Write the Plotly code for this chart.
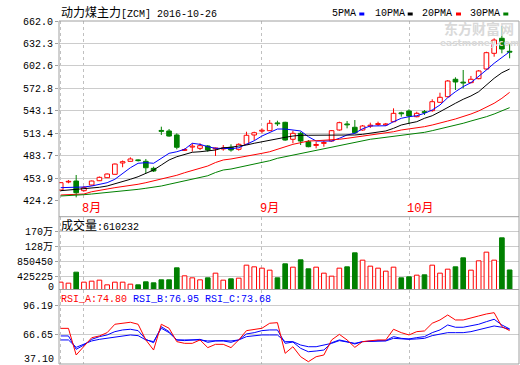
import plotly.graph_objects as go

# ---------------- data ----------------
idx = list(range(59))

opens = [438.1, 448.7, 450.0, 437.2, 444.7, 450.4, 454.4, 458.9, 473.9, 476.1,
         478.0, 476.1, 466.8, 517.0, 516.3, 511.0, 490.6, 495.0, 493.3, 496.4,
         492.6, 492.5, 494.7, 492.0, 498.6, 511.0, 516.1, 516.7, 527.0, 527.8,
         505.3, 513.2, 502.1, 497.2, 499.9, 503.0, 517.6, 525.6, 521.2, 517.6,
         522.8, 524.9, 524.4, 528.6, 540.3, 542.8, 535.2, 541.9, 543.2, 554.3,
         561.7, 584.8, 581.0, 580.3, 585.6, 598.4, 619.2, 639.1, 621.9]
highs = [448.7, 451.4, 458.0, 443.4, 450.7, 456.0, 460.0, 473.2, 477.2, 481.4,
         478.8, 479.2, 469.0, 522.0, 518.9, 513.2, 493.1, 500.0, 500.0, 497.7,
         494.4, 497.7, 498.6, 500.0, 515.3, 515.3, 519.8, 530.8, 529.9, 528.5,
         516.7, 515.3, 504.3, 502.1, 503.4, 517.6, 528.6, 529.5, 530.8, 524.2,
         527.3, 528.6, 526.9, 546.3, 541.8, 545.0, 541.8, 544.1, 558.3, 567.0,
         583.8, 587.4, 597.1, 589.2, 597.1, 621.3, 639.1, 655.4, 631.5]
lows = [437.4, 447.0, 428.4, 436.1, 444.0, 450.0, 454.0, 458.6, 468.2, 475.9,
        475.9, 460.2, 462.0, 511.0, 508.7, 492.0, 489.8, 488.9, 491.1, 488.9,
        483.2, 490.2, 488.9, 490.2, 498.4, 504.3, 513.2, 516.7, 522.9, 503.4,
        500.0, 497.7, 494.7, 493.3, 495.5, 502.1, 516.7, 519.8, 512.3, 516.7,
        520.3, 522.9, 522.9, 528.0, 535.2, 525.5, 534.4, 537.5, 541.8, 553.8,
        560.9, 570.6, 572.8, 579.5, 584.8, 597.1, 614.7, 619.2, 612.6]
closes = [447.8, 449.6, 434.5, 441.2, 450.0, 454.9, 459.3, 472.5, 475.6, 479.2,
          477.0, 467.6, 463.3, 515.8, 509.6, 494.7, 491.8, 496.2, 496.8, 491.1,
          493.8, 493.7, 491.1, 498.6, 510.6, 514.0, 517.3, 526.5, 525.8, 504.3,
          513.2, 503.0, 495.5, 498.4, 501.1, 516.7, 527.3, 524.4, 514.0, 522.9,
          524.0, 526.1, 525.6, 539.7, 539.1, 536.1, 539.7, 540.7, 555.1, 560.9,
          582.5, 581.2, 579.8, 584.8, 595.8, 620.0, 636.8, 624.9, 620.7]

ma5 = [441.2, 441.2, 441.7, 442.1, 443.4, 445.7, 447.8, 452.3, 460.2, 467.6,
       473.5, 474.3, 473.5, 480.1, 486.7, 488.8, 492.0, 500.0, 498.6, 495.5,
       493.3, 493.3, 492.8, 494.1, 498.6, 503.4, 509.6, 514.5, 518.9, 518.9,
       517.6, 516.3, 508.7, 503.0, 503.0, 503.0, 506.6, 511.0, 513.2, 519.3,
       522.9, 522.9, 523.2, 528.6, 533.1, 535.2, 536.5, 539.7, 544.1, 550.7,
       560.4, 568.3, 575.0, 580.3, 588.2, 597.1, 606.0, 613.9, 621.3]
ma10 = [437.2, 438.1, 439.0, 439.0, 440.4, 441.7, 443.4, 446.1, 449.1, 452.3,
        455.7, 460.2, 464.6, 471.2, 477.9, 482.2, 485.4, 488.1, 488.8, 489.8,
        491.1, 494.1, 494.7, 496.4, 497.7, 500.0, 502.1, 504.3, 506.6, 507.9,
        509.6, 510.6, 510.6, 510.6, 510.6, 510.6, 510.6, 511.0, 511.0, 511.9,
        513.2, 515.3, 516.3, 519.8, 524.2, 526.5, 528.6, 533.1, 536.5, 541.8,
        547.7, 553.0, 558.3, 562.7, 568.3, 577.2, 586.1, 593.5, 598.4]
ma20 = [431.5, 431.9, 432.4, 432.8, 435.8, 438.1, 439.4, 441.2, 442.5, 443.8,
        445.7, 447.8, 450.0, 452.7, 454.9, 457.6, 461.0, 463.7, 466.8, 469.9,
        474.5, 477.9, 479.2, 480.9, 483.2, 484.5, 486.7, 488.8, 492.0, 495.5,
        498.6, 500.8, 503.0, 503.4, 503.7, 504.3, 505.3, 506.6, 507.9, 509.6,
        511.0, 512.3, 513.2, 515.3, 517.6, 518.9, 519.8, 522.0, 524.2, 526.5,
        529.5, 532.2, 535.2, 538.8, 542.8, 547.7, 553.0, 559.6, 567.5]
ma30 = [430.2, 430.6, 431.1, 431.9, 432.8, 433.7, 434.5, 435.5, 436.4, 437.7,
        439.0, 440.4, 441.7, 443.4, 445.7, 447.8, 450.0, 452.3, 454.9, 457.0,
        461.3, 464.6, 465.9, 468.2, 469.9, 472.1, 474.8, 476.9, 480.1, 482.2,
        484.5, 486.7, 488.8, 491.1, 492.8, 494.7, 496.4, 498.6, 500.8, 503.0,
        505.3, 506.6, 507.9, 508.7, 510.1, 511.9, 513.2, 514.5, 516.7, 518.9,
        521.2, 523.3, 526.5, 529.5, 532.2, 535.2, 538.8, 543.2, 547.2]

volumes = [264600, 236200, 548100, 264600, 292900, 321300, 189000, 264600, 264600, 207900,
           189000, 274000, 245700, 330700, 330700, 670900, 444100, 387400, 330700, 387400,
           519700, 321300, 359100, 378000, 746500, 699300, 661500, 604800, 387400, 784300,
           689800, 897700, 642600, 689800, 519700, 434700, 661500, 699300, 1096100, 888200,
           718200, 661500, 576400, 689800, 387400, 415800, 463000, 472500, 746500, 519700,
           633100, 699300, 954400, 604800, 869300, 1115000, 888200, 1521300, 610232]

rsi_a = [72.8, 72.8, 46.1, 54.4, 63.4, 65.2, 68.5, 76.9, 77.9, 78.9,
         76.9, 61.2, 51.1, 76.9, 72.9, 59.5, 57.8, 57.8, 61.2, 53.5,
         56.8, 56.8, 53.5, 61.2, 70.5, 71.9, 72.9, 77.9, 78.5, 47.8,
         54.4, 44.4, 39.4, 44.4, 46.1, 61.2, 66.8, 61.2, 53.8, 59.5,
         60.5, 61.2, 61.2, 71.9, 68.5, 66.2, 69.5, 70.2, 77.9, 81.2,
         86.2, 81.2, 81.2, 82.9, 85.2, 87.2, 88.5, 74.5, 70.5]
rsi_b = [65.2, 65.2, 51.8, 56.1, 61.8, 64.5, 66.2, 69.5, 71.2, 71.9,
         70.5, 61.8, 58.4, 74.5, 69.5, 61.2, 60.5, 61.2, 61.8, 58.8,
         60.2, 60.2, 58.8, 61.2, 67.2, 68.5, 70.5, 71.2, 71.2, 57.8,
         59.1, 52.8, 49.4, 50.1, 51.1, 58.4, 61.2, 59.5, 57.1, 59.5,
         60.2, 60.5, 60.5, 64.5, 62.8, 62.2, 63.5, 64.5, 68.5, 71.2,
         76.2, 73.9, 73.9, 75.2, 76.9, 79.5, 81.9, 76.2, 72.2]
rsi_c = [61.2, 61.2, 53.8, 57.1, 60.2, 61.8, 62.8, 64.5, 65.5, 66.2,
         65.5, 61.2, 59.5, 72.9, 68.5, 61.2, 61.2, 61.2, 61.2, 60.2,
         60.5, 60.5, 60.2, 61.2, 64.5, 65.5, 66.2, 66.2, 66.2, 59.5,
         59.5, 56.1, 54.4, 54.4, 56.1, 57.8, 60.5, 59.5, 57.8, 59.5,
         59.5, 60.2, 60.2, 62.8, 62.2, 61.8, 62.2, 62.8, 65.5, 67.2,
         68.5, 68.5, 68.5, 69.5, 71.2, 72.9, 75.2, 73.9, 71.9]

price_ticks = [662.0, 632.3, 602.6, 572.8, 543.1, 513.4, 483.7, 453.9, 424.2]
vol_ticks = [1700900, 1275675, 850450, 425225]
vol_tick_text = ["170万", "128万", "850450", "425225"]
rsi_ticks = [96.19, 66.65]
month_ticks = [0, 3, 26, 45]
month_text = ["", "8月", "9月", "10月"]

# ---------------- styling ----------------
RED, GREEN, BLUE, BLACK = "#ff0000", "#008000", "#0000ff", "#000000"
GRID, FRAME = "#cccccc", "#a0a0a0"
MONO = "Liberation Mono, Noto Sans CJK SC, monospace"

W, H = 520, 365
ML, MR, MT, MB = 59, 1, 21, 1
PW, PH = W - ML - MR, H - MT - MB


def px(xp):
    return (xp - ML) / PW


def py(yp):
    return (H - MB - yp) / PH


MAIN_TOP, MAIN_BOT = 21, 200.5
VOL_TOP, VOL_BOT = 216.7, 289.5
RSI_TOP, RSI_BOT = 289.5, 364

up = [c >= o for o, c in zip(opens, closes)]
edge = [RED if u else GREEN for u in up]
fill = ["#ffffff" if u else GREEN for u in up]

fig = go.Figure()

# wicks
for color, flag in ((RED, True), (GREEN, False)):
    wx, wy = [], []
    for i, o, h, l, c, u in zip(idx, opens, highs, lows, closes, up):
        if u != flag:
            continue
        top, bot = max(o, c), min(o, c)
        wx += [i, i, None, i, i, None]
        wy += [h, top, None, bot, l, None]
    fig.add_trace(go.Scatter(x=wx, y=wy, mode="lines", line=dict(color=color, width=1),
                             hoverinfo="skip", xaxis="x", yaxis="y"))

BW = 0.6
# bodies
fig.add_trace(go.Bar(x=idx, y=[abs(c - o) for o, c in zip(opens, closes)],
                     base=[min(o, c) for o, c in zip(opens, closes)], width=BW,
                     marker=dict(color=fill, line=dict(color=edge, width=1)),
                     xaxis="x", yaxis="y"))

# moving averages
for ser, col in ((ma5, BLUE), (ma10, BLACK), (ma20, RED), (ma30, GREEN)):
    fig.add_trace(go.Scatter(x=idx, y=ser, mode="lines", line=dict(color=col, width=1),
                             xaxis="x", yaxis="y"))

# volume
fig.add_trace(go.Bar(x=idx, y=volumes, width=BW,
                     marker=dict(color=fill, line=dict(color=edge, width=1)),
                     xaxis="x2", yaxis="y2"))

# RSI
for ser, col in ((rsi_c, BLUE), (rsi_b, BLUE), (rsi_a, RED)):
    fig.add_trace(go.Scatter(x=idx, y=ser, mode="lines", line=dict(color=col, width=1),
                             xaxis="x3", yaxis="y3"))

xr = [-0.22, 59.21]
xcommon = dict(range=xr, showgrid=True, gridcolor="#c0c0c0", griddash="3px,3px", gridwidth=1,
               zeroline=False, showline=False, tickvals=month_ticks, ticks="",
               showticklabels=False, automargin=False)

vol_per_px = 1700900 / (291.5 - 231.5)
rsi_per_px = (96.19 - 37.10) / (364 - 305)
ycommon = dict(gridcolor=GRID, zeroline=False, ticks="outside", ticklen=3, tickcolor=FRAME,
               automargin=False, tickfont=dict(family=MONO, size=10, color=BLACK))

fig.update_layout(
    template="none",
    width=W, height=H, margin=dict(l=ML, r=MR, t=MT, b=MB, autoexpand=False),
    paper_bgcolor="white", plot_bgcolor="white", showlegend=False, bargap=0,
    font=dict(family=MONO, size=10, color=BLACK),
    xaxis=dict(domain=[0, 1], anchor="y", **xcommon),
    xaxis2=dict(domain=[0, 1], anchor="y2", matches="x", **xcommon),
    xaxis3=dict(domain=[0, 1], anchor="y3", matches="x", **xcommon),
    yaxis=dict(domain=[py(MAIN_BOT), py(MAIN_TOP)], range=[424.2, 662.0],
               tickvals=price_ticks, ticktext=[f"{v:.1f}" for v in price_ticks], **ycommon),
    yaxis2=dict(domain=[py(VOL_BOT), py(VOL_TOP)],
                range=[(291.5 - VOL_BOT) * vol_per_px, 1700900 + (231.5 - VOL_TOP) * vol_per_px],
                tickvals=vol_ticks, ticktext=vol_tick_text, **ycommon),
    yaxis3=dict(domain=[py(RSI_BOT), py(RSI_TOP)],
                range=[37.10, 96.19 + (305 - RSI_TOP) * rsi_per_px],
                tickvals=rsi_ticks, ticktext=["96.19", "66.65"], **ycommon),
)

shapes = [
    dict(type="rect", xref="paper", yref="paper", x0=0, x1=1, y0=0, y1=1,
         line=dict(color=FRAME, width=1)),
    dict(type="line", xref="paper", yref="paper", x0=0, x1=1, y0=py(VOL_TOP), y1=py(VOL_TOP),
         line=dict(color=FRAME, width=1)),
    dict(type="line", xref="paper", yref="paper", x0=0, x1=1, y0=py(VOL_BOT), y1=py(VOL_BOT),
         line=dict(color=FRAME, width=1)),
]
# legend swatches
for x0, col in ((359.3, BLUE), (407.7, BLACK), (456.0, RED), (503.3, GREEN)):
    shapes.append(dict(type="rect", xref="paper", yref="paper", x0=px(x0), x1=px(x0 + 5),
                       y0=py(15.5), y1=py(12.5), line=dict(width=0), fillcolor=col))
fig.update_layout(shapes=shapes)


def ann(x, y, text, anchor="left", size=10, color=BLACK, family=MONO, xref="paper", xshift=0):
    return dict(xref=xref, yref="paper", x=px(x) if xref == "paper" else x, y=py(y), text=text,
                showarrow=False, xanchor=anchor, yanchor="middle", borderpad=0, xshift=xshift,
                font=dict(family=family, size=size, color=color))


annotations = [
    # watermark
    ann(479, 28.5, "<b>东方财富网</b>", anchor="center", size=14, color="#d9d9d9",
        family="Noto Sans CJK SC"),
    ann(479, 42.5, "<b>eastmoney.com</b>", anchor="center", size=9, color="#d9d9d9",
        family="DejaVu Sans"),
    ann(60, 14, '<span style="font-size:12px">动力煤主力</span>[ZCM] 2016-10-26'),
    ann(331, 14, "5PMA"),
    ann(374, 14, "10PMA"),
    ann(421, 14, "20PMA"),
    ann(469, 14, "30PMA"),
    ann(60, 226, '<span style="font-size:12px">成交量</span>:610232'),
    ann(60, 299.5, '<span style="color:#ff0000">RSI_A:74.80</span> '
                   '<span style="color:#0000ff">RSI_B:76.95 RSI_C:73.68</span>'),
    ann(55, 287, "0", anchor="right"),
    ann(55, 359.5, "37.10", anchor="right"),
]
for t, lab in zip(month_ticks, month_text):
    if lab:
        annotations.append(ann(t, 208.5, lab, size=12, color=RED, xref="x", xshift=-3))
fig.update_layout(annotations=annotations)

fig.write_html("out.html",
               config={"displayModeBar": False, "staticPlot": True},
               post_script="document.body.style.margin='0';document.body.style.padding='0';"
                           "document.body.style.overflow='hidden';")
